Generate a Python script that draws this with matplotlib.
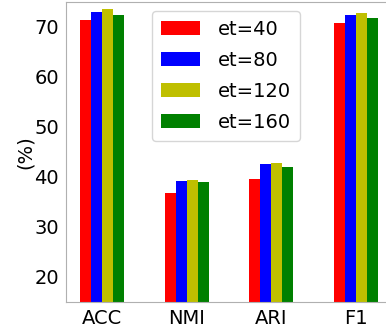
import matplotlib
matplotlib.use("Agg")
import matplotlib.pyplot as plt
import numpy as np

categories = ["ACC", "NMI", "ARI", "F1"]
series_labels = ["et=40", "et=80", "et=120", "et=160"]
et40 = [71.3, 36.7, 39.5, 70.7]
et80 = [72.9, 39.1, 42.5, 72.4]
et120 = [73.5, 39.3, 42.8, 72.7]
et160 = [72.4, 39.0, 41.9, 71.7]
colors = ["r", "b", "y", "g"]
yticks = [20, 30, 40, 50, 60, 70]

fig = plt.figure(figsize=(3.86, 3.29), dpi=100)
ax = fig.add_axes([66/386, 27/329, 326/386, 300.5/329])

x = np.arange(len(categories))
w = 0.13
all_series = [et40, et80, et120, et160]
for i, (vals, lab, c) in enumerate(zip(all_series, series_labels, colors)):
    ax.bar(x + (i - 1.5) * w, vals, width=w, color=c, label=lab)

ax.set_xticks(x)
ax.set_xticklabels(categories, fontsize=14)
ax.set_yticks(yticks)
ax.set_yticklabels([str(t) for t in yticks], fontsize=14)
ax.tick_params(length=0, pad=5)
ax.set_ylim(15, 75)
ax.set_xlim(-0.424, 3.424)
ax.set_ylabel("(%)", fontsize=14)
ax.yaxis.set_label_coords(-0.095, 0.5)
for s in ax.spines.values():
    s.set_color("#b0b0b0")
ax.spines["right"].set_visible(False)
ax.legend(loc="upper center", bbox_to_anchor=(0.5 - 3/326, 1.0), fontsize=14,
          frameon=True, labelspacing=0.62, handletextpad=0.95, handleheight=0.75,
          borderpad=0.45)

fig.savefig("out.png", dpi=100)
